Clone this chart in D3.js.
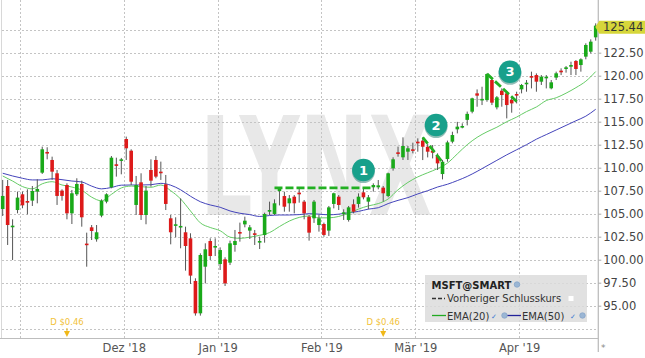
<!DOCTYPE html>
<html><head><meta charset="utf-8">
<script src="https://cdn.jsdelivr.net/npm/d3@7"></script>
<style>
html,body{margin:0;padding:0;background:#fff;}
svg{display:block;font-family:"DejaVu Sans",Verdana,sans-serif;}
</style></head><body>
<svg id="c" width="645" height="358"></svg>
<script>
const dates = [
"2018-10-26","2018-10-29","2018-10-30","2018-10-31",
"2018-11-01","2018-11-02","2018-11-05","2018-11-06","2018-11-07","2018-11-08","2018-11-09","2018-11-12","2018-11-13","2018-11-14","2018-11-15","2018-11-16","2018-11-19","2018-11-20","2018-11-21","2018-11-23","2018-11-26","2018-11-27","2018-11-28","2018-11-29","2018-11-30",
"2018-12-03","2018-12-04","2018-12-06","2018-12-07","2018-12-10","2018-12-11","2018-12-12","2018-12-13","2018-12-14","2018-12-17","2018-12-18","2018-12-19","2018-12-20","2018-12-21","2018-12-24","2018-12-26","2018-12-27","2018-12-28","2018-12-31",
"2019-01-02","2019-01-03","2019-01-04","2019-01-07","2019-01-08","2019-01-09","2019-01-10","2019-01-11","2019-01-14","2019-01-15","2019-01-16","2019-01-17","2019-01-18","2019-01-22","2019-01-23","2019-01-24","2019-01-25","2019-01-28","2019-01-29","2019-01-30","2019-01-31",
"2019-02-01","2019-02-04","2019-02-05","2019-02-06","2019-02-07","2019-02-08","2019-02-11","2019-02-12","2019-02-13","2019-02-14","2019-02-15","2019-02-19","2019-02-20","2019-02-21","2019-02-22","2019-02-25","2019-02-26","2019-02-27","2019-02-28",
"2019-03-01","2019-03-04","2019-03-05","2019-03-06","2019-03-07","2019-03-08","2019-03-11","2019-03-12","2019-03-13","2019-03-14","2019-03-15","2019-03-18","2019-03-19","2019-03-20","2019-03-21","2019-03-22","2019-03-25","2019-03-26","2019-03-27","2019-03-28","2019-03-29",
"2019-04-01","2019-04-02","2019-04-03","2019-04-04","2019-04-05","2019-04-08","2019-04-09","2019-04-10","2019-04-11","2019-04-12","2019-04-15","2019-04-16","2019-04-17","2019-04-18","2019-04-22","2019-04-23"];

const open = [105.51,108.01,103.62,105.40,
107.11,106.38,106.42,107.40,109.46,111.71,110.84,109.39,107.51,108.12,105.04,107.11,108.23,101.75,103.52,102.22,104.79,106.31,107.87,110.37,110.77,
113.12,111.85,105.95,108.41,104.86,109.75,110.84,109.57,108.19,104.50,103.74,103.56,102.98,102.32,97.69,94.17,99.24,102.03,101.38,
99.53,100.04,99.68,101.60,103.01,103.84,103.16,102.87,101.89,102.68,105.22,104.97,107.45,106.92,106.13,106.85,107.29,106.31,104.68,104.50,103.77,
103.88,103.16,106.06,106.85,105.04,104.32,106.02,106.06,107.32,106.31,107.87,107.87,107.83,106.92,109.93,111.67,111.13,111.74,112.00,
112.83,112.94,112.28,111.85,111.27,109.31,110.94,112.83,114.17,114.39,115.20,116.09,118.08,117.38,117.35,119.53,116.56,118.37,118.08,117.36,118.01,
118.52,119.10,119.96,120.07,119.35,119.79,118.63,119.79,120.55,120.73,120.98,121.60,121.16,122.07,122.61,124.17];

const high = [108.67,108.67,104.39,107.40,
107.40,107.65,108.01,108.74,112.29,112.22,111.20,109.75,107.65,108.30,107.58,108.85,108.59,102.94,103.77,103.77,106.56,107.22,111.27,111.09,111.06,
113.38,112.00,109.10,109.39,108.01,110.91,111.27,110.66,109.21,104.86,104.61,106.67,103.59,102.87,97.98,100.69,101.78,102.32,102.32,
101.34,100.26,102.07,103.23,104.03,104.68,103.77,103.23,102.50,105.11,106.31,106.56,107.90,107.39,107.03,107.03,107.76,106.49,104.86,106.49,104.86,
104.03,105.84,107.29,107.03,105.48,105.84,106.56,107.21,107.76,107.03,108.30,108.66,108.01,109.46,111.13,112.29,113.30,112.36,112.72,
113.19,113.30,112.57,112.46,111.56,110.83,112.94,113.91,114.98,114.82,116.10,117.61,118.51,118.80,120.25,119.71,117.79,118.62,118.26,117.72,118.26,
119.10,119.53,120.44,120.25,120.07,120.07,119.53,120.44,120.80,121.05,121.52,121.70,121.89,123.52,123.95,125.69];

const low = [104.75,101.60,99.97,105.04,
105.59,104.93,105.84,106.13,109.32,110.91,108.67,105.95,106.42,104.39,103.88,106.93,103.59,99.24,102.14,101.96,104.61,106.13,107.76,109.03,109.28,
110.84,108.12,104.86,104.32,103.85,107.94,108.85,108.67,105.40,101.67,102.43,101.24,98.81,97.36,93.92,93.92,97.43,99.97,100.40,
98.88,97.14,99.42,100.87,101.96,103.52,102.25,101.60,101.16,101.85,104.86,104.86,105.90,105.22,105.22,105.04,106.20,104.39,102.07,104.00,103.05,
102.50,102.58,105.58,105.40,104.32,104.14,105.04,105.66,106.56,105.48,107.40,107.65,106.31,106.78,109.68,111.20,110.84,110.84,111.56,
111.74,110.83,111.12,111.01,109.75,108.73,110.65,112.65,113.73,114.28,114.60,115.91,116.63,116.81,117.17,116.81,116.34,116.63,115.36,115.98,116.99,
118.08,118.26,118.62,118.26,118.99,118.62,118.52,119.53,120.07,120.33,120.07,120.07,120.44,121.78,122.43,123.81];

const close = [106.93,103.77,103.70,106.75,
105.91,106.20,107.47,107.69,112.00,111.64,109.57,106.93,106.93,105.04,107.22,108.23,104.61,101.60,103.12,102.98,106.40,107.11,111.09,110.26,110.91,
112.11,108.48,108.12,104.86,107.51,108.59,109.03,109.46,106.06,102.98,103.85,103.67,101.49,98.27,94.17,100.51,101.13,100.40,101.49,
101.05,97.43,101.78,102.03,102.86,104.24,103.52,102.72,102.03,104.97,105.40,106.13,107.70,105.76,106.67,106.13,107.11,105.04,102.94,106.31,104.50,
102.69,105.69,107.22,105.95,105.15,105.69,105.22,106.85,106.78,106.78,108.12,108.08,107.22,109.39,110.91,111.56,112.36,112.11,111.86,
112.65,112.28,111.74,111.63,110.47,110.65,112.75,113.55,114.46,114.53,115.85,117.54,117.83,117.48,120.18,117.07,117.65,117.90,116.81,116.99,117.86,
118.99,119.24,119.82,119.35,119.89,119.89,119.28,120.26,120.37,120.91,121.16,120.73,121.78,123.34,123.70,125.44];

// EMA values: [candle index, value]
const ema20 = [[0,109.1],[2,108.55],[4,107.95],[6,107.7],[8,108.25],[10,108.48],[12,108.12],[14,107.9],[16,107.55],[18,106.8],[20,106.4],[22,107.1],[24,107.8],[26,108.0],[28,107.94],[30,107.87],[32,108.12],[34,107.5],[36,106.6],[38,105.3],[40,104.0],[42,103.5],[44,103.15],[46,102.45],[48,102.32],[50,102.45],[52,102.65],[54,102.95],[56,103.6],[58,104.2],[60,104.6],[62,104.75],[64,104.55],[66,104.55],[68,104.7],[70,105.05],[72,105.5],[74,105.85],[76,106.1],[78,106.6],[80,107.6],[82,108.4],[84,109.0],[86,109.45],[88,109.9],[90,110.5],[92,111.5],[94,112.5],[96,113.3],[98,113.9],[100,114.4],[102,115.0],[104,115.5],[106,116.1],[108,116.6],[110,117.3],[112,117.6],[114,118.1],[116,118.7],[118,119.4],[120,120.45]];
const ema50 = [[0,109.4],[2,109.1],[4,108.85],[6,108.67],[8,108.67],[10,108.8],[12,108.7],[14,108.55],[16,108.45],[18,108.0],[20,107.7],[22,107.85],[24,108.1],[26,108.12],[28,108.12],[30,108.15],[32,108.3],[34,108.1],[36,107.6],[38,106.9],[40,106.3],[42,105.95],[44,105.7],[46,105.3],[48,105.05],[50,104.9],[52,104.7],[54,104.8],[56,104.86],[58,104.86],[60,104.9],[62,105.0],[64,104.95],[66,104.88],[68,104.95],[70,105.1],[72,105.25],[74,105.5],[76,105.65],[78,106.1],[80,106.45],[82,106.75],[84,107.15],[86,107.5],[88,107.9],[90,108.2],[92,108.6],[94,109.05],[96,109.6],[98,110.2],[100,110.8],[102,111.4],[104,111.95],[106,112.5],[108,113.1],[110,113.6],[112,114.1],[114,114.6],[116,115.1],[118,115.6],[120,116.35]];

const gridValues = [92.5,95,97.5,100,102.5,105,107.5,110,112.5,115,117.5,120,122.5,125];
const yLabelValues = [95,97.5,100,102.5,105,107.5,110,112.5,115,117.5,120,122.5];
const monthStarts = ["2018-11-01","2018-12-03","2019-01-02","2019-02-01","2019-03-01","2019-04-01"];
const monthLabels = ["","Dez '18","Jan '19","Feb '19","Mär '19","Apr '19"];
const lastPrice = 125.44;
const dividends = [["2018-11-14","D $0.46"],["2019-02-20","D $0.46"]];
const trendLines = [[[55,107.8],[75,107.8]],[[85,113.3],[89,110.6]],[[98,120.2],[104,117.2]]];
const markers = [["1",73,109.75],["2",87.7,114.64],["3",102.65,120.43]];
const legendTitle = "MSFT@SMART";
const legendPrev = "Vorheriger Schlusskurs";
const legendEma = ["EMA(20)","EMA(50)"];

const svg = d3.select("#c");
const W = 645, H = 358, axisX = 598.3, axisY = 338;
const x = d3.scaleLinear().domain([0, dates.length-1]).range([2.7, 595.7]);
const y = d3.scaleLinear().domain([95, 125]).range([305.7, 29.7]);
const idx = d => dates.indexOf(d);

// watermark
svg.append("text").attr("x",200).attr("y",215).attr("font-size",138).attr("font-weight","bold")
  .attr("fill","#e8e8e8").attr("textLength",232).attr("lengthAdjust","spacingAndGlyphs").text("LYNX");

// left frame
svg.append("line").attr("x1",1.5).attr("x2",1.5).attr("y1",0).attr("y2",axisY).attr("stroke","#d8d8d8");

// grid
const grid = svg.append("g").attr("stroke","#c4c4c4").attr("stroke-dasharray","2,2");
grid.selectAll("line.h").data(gridValues).join("line").attr("class","h")
  .attr("x1",2).attr("x2",axisX).attr("y1",d=>Math.round(y(d))+0.5).attr("y2",d=>Math.round(y(d))+0.5);
grid.selectAll("line.v").data(monthStarts).join("line").attr("class","v")
  .attr("x1",d=>Math.round(x(idx(d)-0.5))+0.5).attr("x2",d=>Math.round(x(idx(d)-0.5))+0.5).attr("y1",0).attr("y2",axisY);

// EMA lines
const line = d3.line().x(d=>x(d[0])).y(d=>y(d[1])).curve(d3.curveMonotoneX);
svg.append("path").attr("d",line(ema50)).attr("fill","none").attr("stroke","#4444bb").attr("stroke-width",1);
svg.append("path").attr("d",line(ema20)).attr("fill","none").attr("stroke","#66cc66").attr("stroke-width",1);

// candles
const bw = 3.6;
const cg = svg.append("g");
const candles = cg.selectAll("g").data(dates.map((d,i)=>({i,o:open[i],h:high[i],l:low[i],c:close[i]}))).join("g");
candles.append("line").attr("x1",d=>x(d.i)).attr("x2",d=>x(d.i)).attr("y1",d=>y(d.h)).attr("y2",d=>y(d.l))
  .attr("stroke","#555").attr("stroke-width",1);
candles.append("rect").attr("x",d=>x(d.i)-bw/2).attr("width",bw)
  .attr("y",d=>y(Math.max(d.o,d.c))).attr("height",d=>Math.max(1.6,Math.abs(y(d.o)-y(d.c))))
  .attr("fill",d=>d.c>=d.o?"#19a919":"#dd1a1a");

// trend dashed lines
const tl = d3.line().x(d=>x(d[0])).y(d=>y(d[1]));
svg.selectAll("path.tl").data(trendLines).join("path").attr("class","tl").attr("d",tl)
  .attr("fill","none").attr("stroke","#22b022").attr("stroke-width",2.8).attr("stroke-dasharray","8,3");

// markers
const mk = svg.selectAll("g.mk").data(markers).join("g").attr("class","mk")
  .attr("transform",d=>`translate(${x(d[1])},${y(d[2])})`);
mk.append("circle").attr("cy",1.5).attr("r",11.5).attr("fill","#0d6e60").attr("opacity",0.45);
mk.append("circle").attr("r",11.3).attr("fill","#18a08b");
mk.append("text").attr("text-anchor","middle").attr("dy","0.36em").attr("fill","#fff")
  .attr("font-weight","bold").attr("font-size",13).text(d=>d[0]);

// axes lines
svg.append("line").attr("x1",0).attr("x2",axisX).attr("y1",axisY+0.5).attr("y2",axisY+0.5).attr("stroke","#bdbdbd");
svg.append("line").attr("x1",axisX).attr("x2",axisX).attr("y1",0).attr("y2",352).attr("stroke","#bdbdbd").attr("stroke-width",1.3);

// y axis
const ya = svg.append("g").attr("transform",`translate(${axisX},0)`)
  .call(d3.axisRight(y).tickValues(yLabelValues).tickFormat(d3.format(".2f")).tickSize(3).tickPadding(2));
ya.select(".domain").remove();
ya.selectAll("line").attr("stroke","#aaa");
ya.selectAll("text").attr("font-size","11.5px").attr("fill","#444").attr("font-family","DejaVu Sans, sans-serif");

// x axis
const xa = svg.append("g").attr("transform",`translate(0,${axisY})`)
  .call(d3.axisBottom(x).tickValues(monthStarts.map(d=>idx(d)-0.5)).tickFormat((d,i)=>monthLabels[i]).tickSize(0).tickPadding(6));
xa.select(".domain").remove();
xa.selectAll("text").attr("font-size","11.5px").attr("fill","#555").attr("font-family","DejaVu Sans, sans-serif");

svg.append("text").attr("x",601).attr("y",351).attr("font-size",9).attr("fill","#888").text("*");

// price tag
const py = y(lastPrice);
const tag = svg.append("g");
tag.append("path").attr("d",`M${axisX-3},${py+1.3} L${axisX+1},${py-5} L${W},${py-5} L${W},${py+8} L${axisX+1},${py+8} Z`).attr("fill","#d6d63a");
tag.append("text").attr("x",603).attr("y",py+5.8).attr("font-size","11.5px").attr("fill","#333").text(d3.format(".2f")(lastPrice));

// dividends
const dv = svg.selectAll("g.dv").data(dividends).join("g").attr("class","dv")
  .attr("transform",d=>`translate(${x(idx(d[0]))},0)`);
dv.append("text").attr("text-anchor","middle").attr("y",325).attr("font-size",8.5).attr("fill","#f2c23a").text(d=>d[1]);
dv.append("line").attr("y1",328).attr("y2",333).attr("stroke","#f0b818").attr("stroke-width",1);
dv.append("path").attr("d","M-3,331 L3,331 L0,337 Z").attr("fill","#f0b818");

// legend
const lg = svg.append("g");
lg.append("rect").attr("x",425).attr("y",275).attr("width",162).attr("height",47).attr("fill","#dcdcdc").attr("opacity",0.85);
lg.append("text").attr("x",431.5).attr("y",288.5).attr("font-size",10).attr("font-weight","bold").attr("fill","#222").text(legendTitle);
function gear(cx,cy){lg.append("circle").attr("cx",cx).attr("cy",cy).attr("r",2.8).attr("fill","#9bb6d4").attr("stroke","#7a9cc4").attr("stroke-width",0.6);}
function check(cx,cy){lg.append("text").attr("x",cx).attr("y",cy).attr("font-size",7).attr("fill","#3a78d0").attr("text-anchor","middle").text("✓");}
gear(517,284.5);
lg.append("line").attr("x1",432).attr("x2",445).attr("y1",298.5).attr("y2",298.5).attr("stroke","#333").attr("stroke-width",1.3).attr("stroke-dasharray","4,2");
lg.append("text").attr("x",447).attr("y",302).attr("font-size",10).attr("fill","#333").text(legendPrev);
lg.append("rect").attr("x",568.5).attr("y",296).attr("width",5).attr("height",5).attr("fill","#fff");
lg.append("line").attr("x1",432).attr("x2",446).attr("y1",315.5).attr("y2",315.5).attr("stroke","#22aa22").attr("stroke-width",1.3);
lg.append("text").attr("x",447).attr("y",319.5).attr("font-size",10).attr("fill","#333").text(legendEma[0]);
check(494,318.5); gear(504.5,315.5);
lg.append("line").attr("x1",507.5).attr("x2",521).attr("y1",315.5).attr("y2",315.5).attr("stroke","#22229a").attr("stroke-width",1.3);
lg.append("text").attr("x",522).attr("y",319.5).attr("font-size",10).attr("fill","#333").text(legendEma[1]);
check(573,318.5); gear(582.5,315.5);
</script>
</body></html>
